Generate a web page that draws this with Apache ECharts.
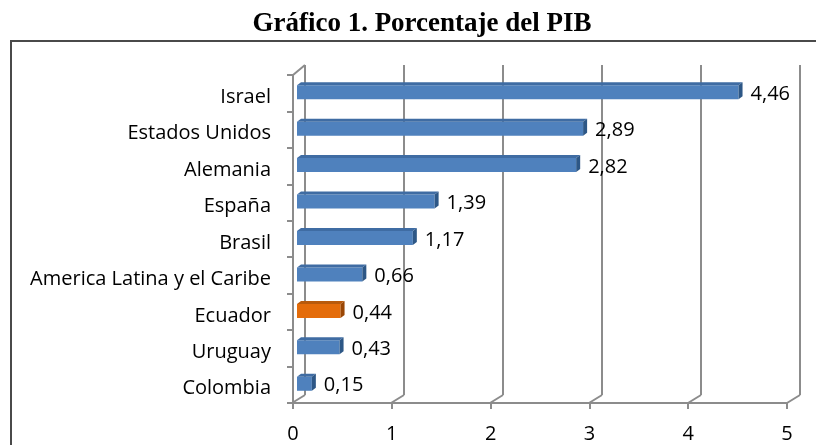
<!DOCTYPE html>
<html>
<head>
<meta charset="utf-8">
<script src="https://cdn.jsdelivr.net/npm/echarts@6/dist/echarts.min.js"></script>
<style>
  html, body { margin: 0; padding: 0; background: #fff; }
  #chart { width: 816px; height: 445px; }
</style>
</head>
<body>
<div id="chart"></div>
<script>
// datos (de abajo hacia arriba, como los pinta el eje de categorias)
var categorias = ['Colombia', 'Uruguay', 'Ecuador', 'America Latina y el Caribe', 'Brasil', 'España', 'Alemania', 'Estados Unidos', 'Israel']
var valores = [0.15, 0.43, 0.44, 0.66, 1.17, 1.39, 2.82, 2.89, 4.46]
var destacado = 'Ecuador'
var ticksX = [0, 1, 2, 3, 4, 5]

var gris = '#8c8c8c'
var fuente = '"Open Sans", "Noto Sans", sans-serif'

function fmt (v) {
  return v.toFixed(2).replace('.', ',')
}

var chart = echarts.init(document.getElementById('chart'), null, { renderer: 'canvas' })

var option = {
  animation: false,
  title: {
    text: 'Gráfico 1. Porcentaje del PIB',
    left: 417,
    top: 6,
    textAlign: 'center',
    textStyle: {
      fontFamily: '"Liberation Serif", "Times New Roman", serif',
      fontWeight: 'bold',
      fontSize: 27,
      color: '#000'
    }
  },
  graphic: [
    {
      type: 'rect',
      shape: { x: 11, y: 41, width: 830, height: 430 },
      style: { fill: 'none', stroke: '#4a4a4a', lineWidth: 2 },
      z: -10
    }
  ],
  grid: [
    { left: 293, right: 29, top: 75, bottom: 42 },  // frente
    { left: 305, right: 16, top: 65, bottom: 50 },  // pared del fondo
    { left: 297, right: 24, top: 73, bottom: 44 }   // barras
  ],
  xAxis: [
    {
      gridIndex: 0,
      type: 'value',
      min: 0,
      max: 5,
      interval: 1,
      axisLine: { show: true, lineStyle: { color: gris, width: 2 } },
      axisTick: { show: true, length: 6, lineStyle: { color: gris, width: 2 } },
      splitLine: { show: false },
      axisLabel: { fontSize: 20, color: '#000', fontFamily: fuente, margin: 21 }
    },
    { gridIndex: 1, type: 'value', min: 0, max: 5, show: false },
    { gridIndex: 2, type: 'value', min: 0, max: 5, show: false }
  ],
  yAxis: [
    {
      gridIndex: 0,
      type: 'category',
      data: categorias,
      axisLine: { show: true, lineStyle: { color: gris, width: 2 } },
      axisTick: { show: true, length: 6, lineStyle: { color: gris, width: 2 } },
      axisLabel: { fontSize: 20, color: '#000', fontFamily: fuente, margin: 22, verticalAlign: 'top', lineHeight: 8 }
    },
    { gridIndex: 1, type: 'value', min: 0, max: 1, show: false },
    { gridIndex: 2, type: 'category', data: categorias, show: false }
  ],
  series: [
    {
      // lineas de la pared del fondo y del suelo (efecto 3D)
      type: 'custom',
      xAxisIndex: 1,
      yAxisIndex: 1,
      z: 1,
      silent: true,
      data: ticksX,
      encode: { x: 0 },
      renderItem: function (params, api) {
        var v = api.value(0)
        var abajo = api.coord([v, 0])
        var arriba = api.coord([v, 1])
        var style = { stroke: gris, lineWidth: 2 }
        var hijos = [
          { type: 'line', shape: { x1: abajo[0], y1: abajo[1], x2: arriba[0], y2: arriba[1] }, style: style },
          { type: 'line', shape: { x1: abajo[0], y1: abajo[1], x2: abajo[0] - 13, y2: abajo[1] + 8 }, style: style }
        ]
        if (v === 0) {
          hijos.push({ type: 'line', shape: { x1: arriba[0], y1: arriba[1], x2: arriba[0] - 12, y2: arriba[1] + 10 }, style: style })
        }
        return { type: 'group', children: hijos }
      }
    },
    {
      type: 'custom',
      xAxisIndex: 2,
      yAxisIndex: 2,
      z: 5,
      data: valores.map(function (v, i) { return [v, i] }),
      encode: { x: 0, y: 1 },
      renderItem: function (params, api) {
        var v = api.value(0)
        var c = api.value(1)
        var ini = api.coord([0, c])
        var fin = api.coord([v, c])
        var h = 14
        var d = 4
        var dy = 3
        var x0 = ini[0]
        var x1 = fin[0]
        var y0 = fin[1] - h / 2 + 1
        var naranja = categorias[c] === destacado
        var cFrente = naranja ? '#e46c0a' : '#4f81bd'
        var cArriba = naranja ? '#b85a0c' : '#3f6ca3'
        var cLado = naranja ? '#9a4705' : '#2d5786'
        return {
          type: 'group',
          children: [
            { type: 'rect', shape: { x: x0, y: y0, width: x1 - x0, height: h }, style: { fill: cFrente } },
            { type: 'polygon', shape: { points: [[x0, y0], [x0 + d, y0 - dy], [x1 + d, y0 - dy], [x1, y0]] }, style: { fill: cArriba } },
            { type: 'polygon', shape: { points: [[x1, y0], [x1 + d, y0 - dy], [x1 + d, y0 + h - dy], [x1, y0 + h]] }, style: { fill: cLado } },
            {
              type: 'text',
              style: {
                x: x1 + d + 8,
                y: y0 + h / 2 + 2,
                text: fmt(v),
                fill: '#000',
                font: '20px ' + fuente,
                verticalAlign: 'middle'
              }
            }
          ]
        }
      }
    }
  ]
}

chart.setOption(option)
</script>
</body>
</html>
